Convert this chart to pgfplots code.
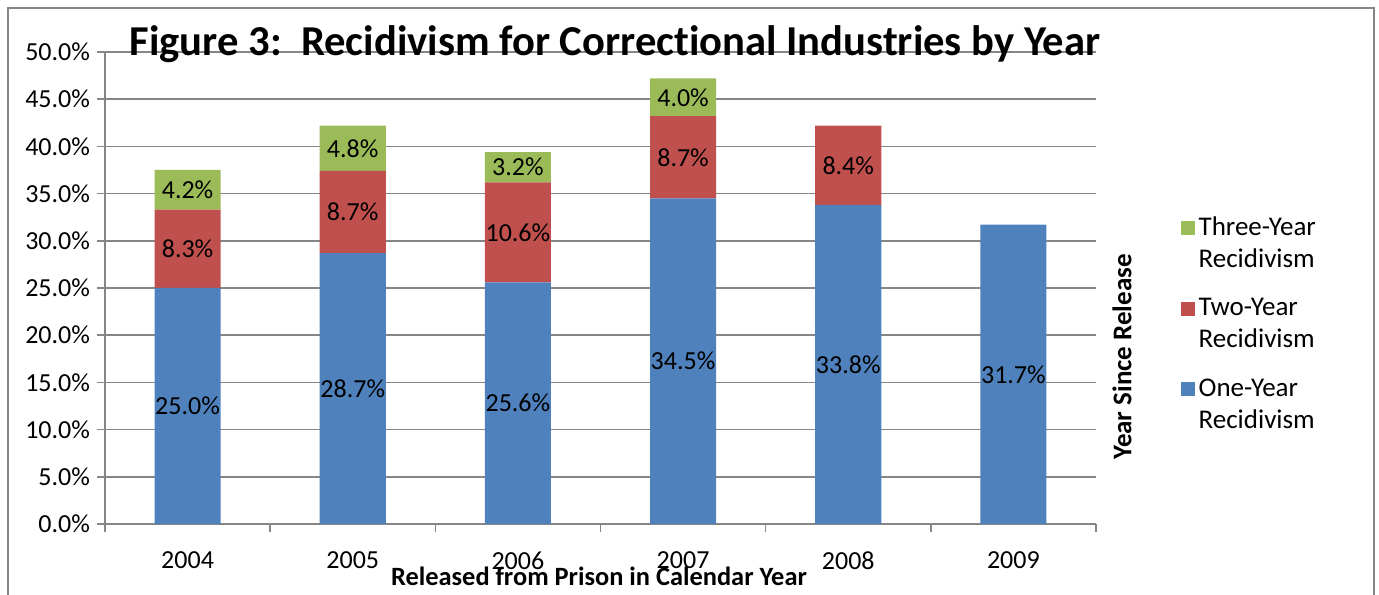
\documentclass[border=0pt]{standalone}
\usepackage{pgfplots}
\pgfplotsset{compat=1.18}
\usepackage{fontspec}
\setmainfont{Carlito}[Ligatures={NoCommon}]
\definecolor{cblue}{HTML}{4F81BD}
\definecolor{cred}{HTML}{C0504D}
\definecolor{cgreen}{HTML}{9BBB59}
\definecolor{cgrid}{HTML}{868686}
\begin{document}
\begin{tikzpicture}[x=1pt,y=1pt]
\useasboundingbox (0,0) rectangle (689.5,297);
\draw[cgrid, line width=1pt] (4,-2) -- (4,293) -- (687,293) -- (687,-2);
\begin{axis}[at={(52.5pt,35pt)}, anchor=south west, scale only axis,
  width=495.5pt, height=236pt,
  ybar stacked, bar width=0.4,
  xmin=-0.5, xmax=5.5, ymin=0, ymax=50,
  xtick={0,...,5}, xticklabels={2004,2005,2006,2007,2008,2009},
  minor xtick={-0.5,0.5,...,5.5},
  ytick={0,5,...,50},
  /pgf/number format/assume math mode=true,
  yticklabel={\pgfmathprintnumber[fixed,fixed zerofill,precision=1]{\tick}\%},
  ymajorgrids, grid style={cgrid, line width=0.75pt},
  axis x line*=bottom, axis y line*=left,
  axis line style={cgrid, line width=0.75pt, -},
  tick align=outside, major tick length=4pt, minor tick length=4pt,
  major x tick style={draw=none},
  tick style={cgrid, line width=0.75pt},
  ticklabel style={font=\fontsize{13}{15}\selectfont, text=black},
  xticklabel style={inner sep=0pt, yshift=-9.6pt},
  reverse legend,
  legend style={draw=none, fill=none, at={(1.085,0.66)}, anchor=north west,
    font=\fontsize{13.5}{16}\selectfont, cells={align=left}, row sep=10pt, inner sep=0pt},
  legend cell align=left,
  legend image code/.code={\fill[#1] (0pt,4.5pt) rectangle (7pt,11.5pt);},
]
\addplot[fill=cblue, draw=none] coordinates {(0,25.0) (1,28.7) (2,25.6) (3,34.5) (4,33.8) (5,31.7)};
\addplot[fill=cred, draw=none] coordinates {(0,8.3) (1,8.7) (2,10.6) (3,8.7) (4,8.4)};
\addplot[fill=cgreen, draw=none] coordinates {(0,4.2) (1,4.8) (2,3.2) (3,4.0)};
\addlegendentry{One-Year\\Recidivism}
\addlegendentry{Two-Year\\Recidivism}
\addlegendentry{Three-Year\\Recidivism}
\end{axis}
\begin{axis}[at={(52.5pt,35pt)}, anchor=south west, scale only axis,
  width=495.5pt, height=236pt, hide axis,
  xmin=-0.5, xmax=5.5, ymin=0, ymax=50,
  nodes near coords, point meta=explicit symbolic,
  nodes near coords align=center,
  every node near coord/.append style={anchor=center, font=\fontsize{13}{15}\selectfont, text=black, inner sep=0pt},
]
\addplot[draw=none, mark=none, nodes near coords] coordinates {
 (0,12.5)[25.0\%] (0,29.15)[8.3\%] (0,35.4)[4.2\%]
 (1,14.35)[28.7\%] (1,33.05)[8.7\%] (1,39.8)[4.8\%]
 (2,12.8)[25.6\%] (2,30.9)[10.6\%] (2,37.8)[3.2\%]
 (3,17.25)[34.5\%] (3,38.85)[8.7\%] (3,45.2)[4.0\%]
 (4,16.9)[33.8\%] (4,38.0)[8.4\%]
 (5,15.85)[31.7\%]
};
\end{axis}
\node[anchor=base, font=\bfseries\fontsize{21.3}{24}\selectfont] at (307.5,269) {Figure 3:\ \ Recidivism for Correctional Industries by Year};
\node[rotate=90, font=\bfseries\fontsize{13.5}{16}\selectfont] at (561,118.5) {Year Since Release};
\node[inner sep=0pt, anchor=base, font=\bfseries\fontsize{13.2}{16}\selectfont] at (299.5,4.2) {Released from Prison in Calendar Year};
\end{tikzpicture}
\end{document}
